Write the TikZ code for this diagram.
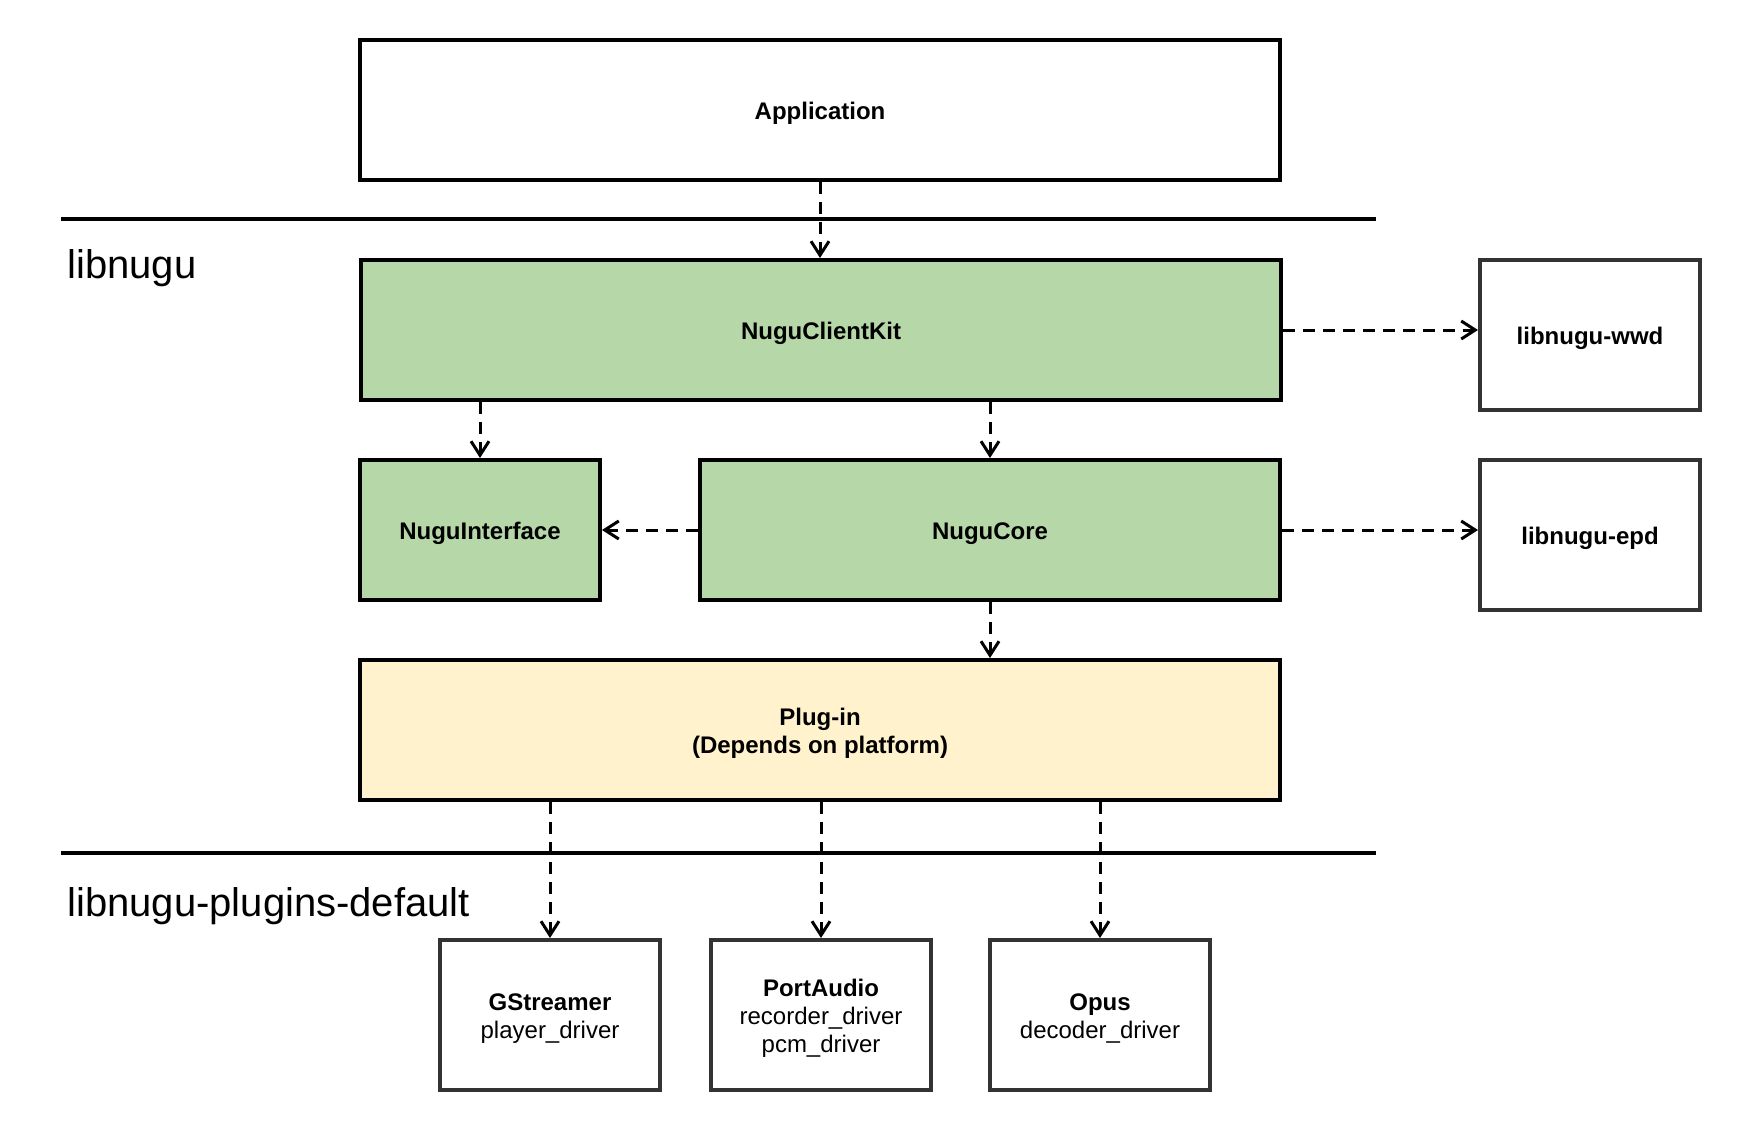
\documentclass[tikz,border=0pt]{standalone}
\usepackage{fontspec}
\setmainfont{Liberation Sans}
\usetikzlibrary{arrows.meta}
\definecolor{kitgreen}{HTML}{B6D7A8}
\definecolor{pluginyellow}{HTML}{FFF2CC}
\definecolor{extgray}{HTML}{333333}
% lowers the text a little, as in the original
\newcommand\boxstrut{\rule{0pt}{12.2pt}}
\tikzset{
  layer/.style = {draw, line width=2pt, font=\bfseries\fontsize{12}{14}\selectfont, align=center, minimum height=70pt},
  extbox/.style = {draw = extgray, line width=2pt, font=\fontsize{12}{14}\selectfont, align=center, minimum width=110pt, minimum height=75pt},
  dep/.style = {line width=1.5pt, dash pattern=on 6pt off 4pt, -{Straight Barb[length=7pt,width=9pt,line width=1.5pt]}},
  sepline/.style = {line width=2pt},
  group/.style = {anchor=west, inner sep=0pt, font=\fontsize{20}{24}\selectfont}
}
\begin{document}
\begin{tikzpicture} [x=0.5pt, y=-0.5pt]
\useasboundingbox (0,0) rectangle (1751,1130);
%\tikzstyle{every node}=[draw];
\node [layer, minimum width=460pt] (app) at (820,110) {\boxstrut Application};
\node [layer, fill = kitgreen, minimum width=460pt] (nck) at (821,330) {\boxstrut NuguClientKit};
\node [layer, fill = kitgreen, minimum width=120pt] (ni) at (480,530) {\boxstrut NuguInterface};
\node [layer, fill = kitgreen, minimum width=290pt] (nc) at (990,530) {\boxstrut NuguCore};
\node [layer, fill = pluginyellow, minimum width=460pt] (plugin) at (820,730) {\boxstrut Plug-in\\(Depends on platform)};
\node [extbox, font=\bfseries\fontsize{12}{14}\selectfont] (wwd) at (1590,335) {\boxstrut libnugu-wwd};
\node [extbox, font=\bfseries\fontsize{12}{14}\selectfont] (epd) at (1590,535) {\boxstrut libnugu-epd};
\node [extbox] (gst) at (550,1015) {\boxstrut\textbf{GStreamer}\\player\_driver};
\node [extbox] (pa) at (821,1015) {\boxstrut\textbf{PortAudio}\\recorder\_driver\\pcm\_driver};
\node [extbox] (opus) at (1100,1015) {\boxstrut\textbf{Opus}\\decoder\_driver};
\node [group] (libnugu) at (67,268) {libnugu};
\node [group] (plugins) at (67,906) {libnugu-plugins-default};
% layer borders
\draw [sepline] (61,219) -- (1376,219);
\draw [sepline] (61,853) -- (1376,853);
% dependencies
\draw [dep] (app.south) -- (app.south |- nck.north);
\draw [dep] (nck.south -| ni.north) -- (ni.north);
\draw [dep] (nck.south -| nc.north) -- (nc.north);
\draw [dep] (nc.west) -- (ni.east);
\draw [dep] (nck.east) -- (nck.east -| wwd.west);
\draw [dep] (nc.east) -- (nc.east -| epd.west);
\draw [dep] (nc.south) -- (nc.south |- plugin.north);
\draw [dep] (plugin.south -| gst.north) -- (gst.north);
\draw [dep] (plugin.south -| pa.north) -- (pa.north);
\draw [dep] (plugin.south -| opus.north) -- (opus.north);
\end{tikzpicture}
\end{document}
